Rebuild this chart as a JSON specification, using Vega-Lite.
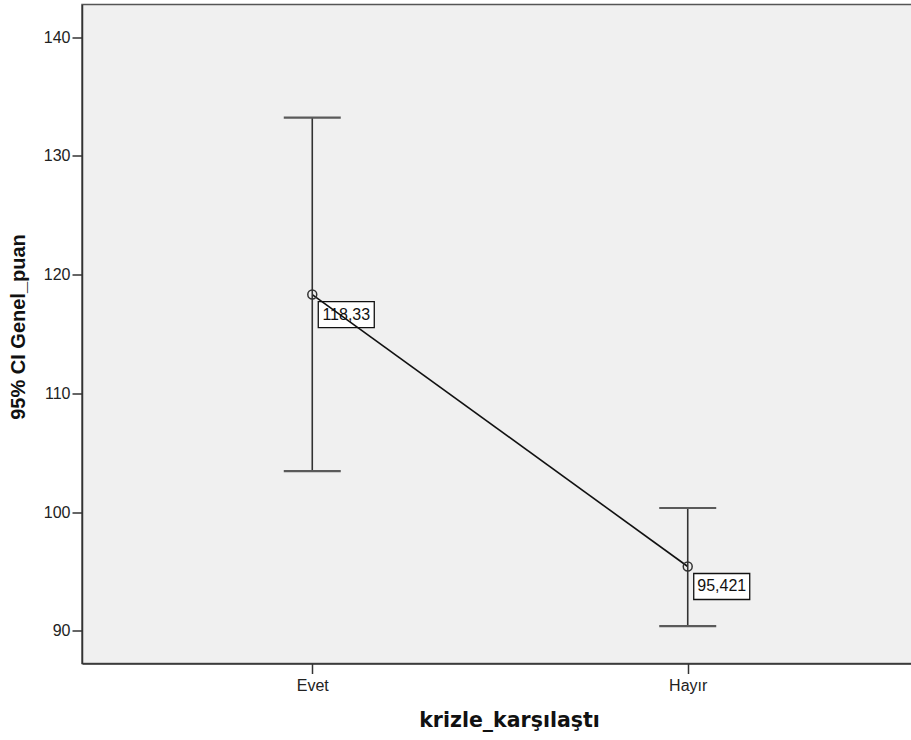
{
  "$schema": "https://vega.github.io/schema/vega-lite/v6.json",
  "autosize": {"type": "none"},
  "padding": {"left": 82, "top": 4.5, "right": 0, "bottom": 77},
  "width": 836,
  "height": 659,
  "background": "white",
  "config": {
    "font": "Liberation Sans",
    "view": {"fill": "#f0f0f0", "stroke": "#555555", "strokeWidth": 1.5},
    "axis": {
      "grid": false,
      "domainColor": "#333333",
      "domainWidth": 1.5,
      "tickColor": "#333333",
      "tickWidth": 1.5,
      "tickSize": 10,
      "labelFont": "Liberation Sans",
      "labelFontSize": 16,
      "labelColor": "#222222",
      "titleFont": "Liberation Sans",
      "titleFontSize": 20,
      "titleFontWeight": "bold",
      "titleColor": "#111111"
    }
  },
  "data": {
    "values": [
      {"group": "Evet", "mean": 118.33, "lower": 103.46, "upper": 133.23, "label": "118,33"},
      {"group": "Hayır", "mean": 95.421, "lower": 90.4, "upper": 100.35, "label": "95,421"}
    ]
  },
  "encoding": {
    "x": {
      "field": "group",
      "type": "nominal",
      "sort": ["Evet", "Hayır"],
      "scale": {"type": "point", "padding": 0.6133},
      "axis": {
        "title": "krizle_karşılaştı",
        "labelAngle": 0,
        "labelPadding": 4,
        "titleY": 56.5,
        "titleX": 427,
        "titleBaseline": "middle",
        "titleFont": "DejaVu Sans",
        "titleFontSize": 20.5
      }
    }
  },
  "layer": [
    {
      "mark": {"type": "rect", "width": 56, "height": 26, "xOffset": 34, "yOffset": 20, "fill": "white", "stroke": "#111111", "strokeWidth": 1.3},
      "encoding": {
        "y": {
          "field": "mean",
          "type": "quantitative",
          "scale": {"domain": [87.25, 142.76], "nice": false, "zero": false},
          "axis": {
            "title": "95% CI Genel_puan",
            "values": [90, 100, 110, 120, 130, 140],
            "labelPadding": 2,
            "titleX": -64,
            "titleY": 322,
            "titleBaseline": "middle",
            "titleAlign": "center"
          }
        }
      }
    },
    {
      "mark": {"type": "text", "dx": 34, "dy": 20, "fontSize": 16, "color": "#111111", "align": "center", "baseline": "middle"},
      "encoding": {
        "y": {"field": "mean", "type": "quantitative"},
        "text": {"field": "label"}
      }
    },
    {
      "mark": {"type": "line", "color": "#111111", "strokeWidth": 1.6},
      "encoding": {
        "y": {"field": "mean", "type": "quantitative"}
      }
    },
    {
      "mark": {"type": "rule", "color": "#333333", "strokeWidth": 1.6},
      "encoding": {
        "y": {"field": "lower", "type": "quantitative"},
        "y2": {"field": "upper"}
      }
    },
    {
      "mark": {"type": "tick", "color": "#5a5a5a", "size": 57, "thickness": 2.2, "opacity": 1},
      "encoding": {
        "y": {"field": "upper", "type": "quantitative"}
      }
    },
    {
      "mark": {"type": "tick", "color": "#5a5a5a", "size": 57, "thickness": 2.2, "opacity": 1},
      "encoding": {
        "y": {"field": "lower", "type": "quantitative"}
      }
    },
    {
      "mark": {"type": "point", "shape": "circle", "filled": false, "size": 80, "stroke": "#333333", "strokeWidth": 1.5, "opacity": 1},
      "encoding": {
        "y": {"field": "mean", "type": "quantitative"}
      }
    }
  ]
}
